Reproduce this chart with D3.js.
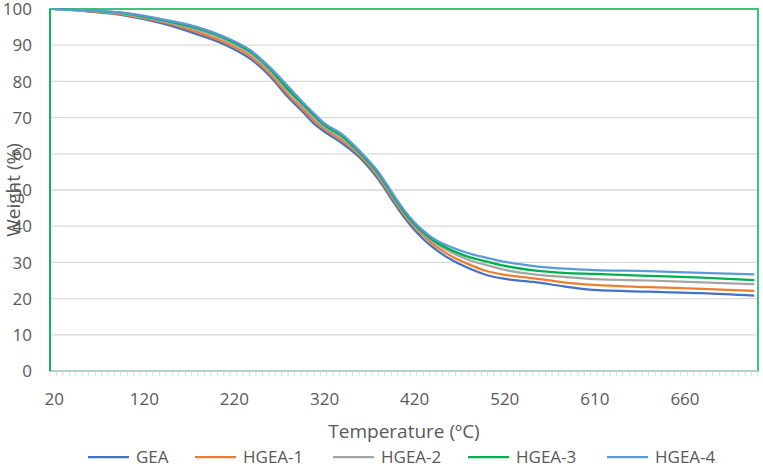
<!DOCTYPE html>
<html>
<head>
<meta charset="utf-8">
<script src="https://cdn.jsdelivr.net/npm/d3@7"></script>
<style>
  html, body { margin: 0; padding: 0; background: #fff; }
  svg { display: block; }
  text { font-family: "Open Sans", "Liberation Sans", sans-serif; fill: #595959; }
</style>
</head>
<body>
<svg id="chart" width="763" height="467"></svg>
<script>
// ---- data ----
const temps = [20, 60, 100, 140, 180, 210, 240, 260, 280, 300, 310, 320, 340, 360, 380, 400, 410, 420, 430, 440, 460, 480, 500, 520, 550, 580, 610, 640, 670, 699];
const GEA    = [100, 99.3, 98.2, 96.1, 93.0, 90.2, 86.0, 81.6, 75.8, 70.8, 68.2, 66.3, 63.0, 59.0, 53.2, 45.8, 42.3, 39.2, 36.6, 34.4, 31.0, 28.5, 26.6, 25.5, 24.6, 23.4, 22.4, 21.9, 21.5, 20.8];
const HGEA_1 = [100, 99.4, 98.4, 96.5, 93.6, 90.8, 86.7, 82.2, 76.5, 71.6, 69.0, 67.0, 63.7, 59.6, 53.9, 46.5, 43.0, 40.0, 37.5, 35.3, 32.0, 29.6, 27.7, 26.6, 25.6, 24.5, 23.8, 23.2, 22.7, 22.1];
const HGEA_2 = [100, 99.5, 98.6, 96.7, 94.2, 91.5, 87.5, 83.0, 77.4, 72.4, 69.8, 67.6, 64.4, 60.0, 54.4, 47.0, 43.5, 40.5, 38.0, 36.0, 33.0, 30.8, 29.3, 28.0, 26.7, 26.0, 25.4, 25.0, 24.5, 24.0];
const HGEA_3 = [100, 99.6, 98.8, 97.0, 94.7, 92.0, 88.0, 83.6, 78.0, 73.0, 70.5, 68.1, 65.0, 60.3, 54.8, 47.3, 43.8, 40.8, 38.4, 36.4, 33.6, 31.6, 30.3, 29.1, 27.8, 27.1, 26.8, 26.3, 25.8, 25.1];
const HGEA_4 = [100, 99.6, 98.9, 97.2, 95.0, 92.3, 88.4, 84.0, 78.8, 73.5, 71.0, 68.6, 65.5, 60.8, 55.3, 47.8, 44.3, 41.3, 38.9, 36.9, 34.4, 32.6, 31.3, 30.2, 29.0, 28.3, 27.9, 27.6, 27.1, 26.7];
const seriesNames = ["GEA", "HGEA-1", "HGEA-2", "HGEA-3", "HGEA-4"];
const seriesValues = [GEA, HGEA_1, HGEA_2, HGEA_3, HGEA_4];
const seriesColors = ["#4472C4", "#ED7D31", "#A5A5A5", "#00B050", "#5B9BD5"];
const xTickLabels = [20, 120, 220, 320, 420, 520, 610, 660];
const categoriesPerLabel = 14;
const categoryCount = 110;
const yTicks = [0, 10, 20, 30, 40, 50, 60, 70, 80, 90, 100];

// ---- layout ----
const svg = d3.select("#chart");
const L = 50, R = 758, T = 9, B = 371;

// temperature -> category index (category axis with uneven temperature steps)
const tempToIndex = d3.scaleLinear()
  .domain(xTickLabels)
  .range(xTickLabels.map((d, i) => i * categoriesPerLabel));
const indexToPx = d3.scaleLinear().domain([-0.5, categoryCount - 0.5]).range([L, R]);
const x = t => indexToPx(tempToIndex(t));
const y = d3.scaleLinear().domain([0, 100]).range([B, T]);

// gridlines
svg.append("g").selectAll("line").data(yTicks.filter(d => d > 0 && d < 100)).join("line")
  .attr("x1", L).attr("x2", R).attr("y1", d => y(d)).attr("y2", d => y(d))
  .attr("stroke", "#D9D9D9").attr("stroke-width", 1.3);

// plot border (green)
svg.append("rect").attr("x", L).attr("y", T).attr("width", R - L).attr("height", B - T)
  .attr("fill", "none").attr("stroke", "#00B050").attr("stroke-width", 1.5);

// x axis line + minor category ticks
svg.append("line").attr("x1", L).attr("x2", R).attr("y1", B).attr("y2", B)
  .attr("stroke", "#D9D9D9").attr("stroke-width", 1.3);
svg.append("g").selectAll("line").data(d3.range(0, categoryCount + 1)).join("line")
  .attr("x1", i => indexToPx(i - 0.5)).attr("x2", i => indexToPx(i - 0.5))
  .attr("y1", B).attr("y2", B + 5)
  .attr("stroke", "#D9D9D9").attr("stroke-width", 1);
svg.append("line").attr("x1", L).attr("x2", L).attr("y1", T).attr("y2", B)
  .attr("stroke", "#00B050").attr("stroke-width", 1.5);

// y tick labels
svg.append("g").selectAll("text").data(yTicks).join("text")
  .attr("x", 32).attr("y", d => y(d)).attr("dy", "0.36em")
  .attr("text-anchor", "end").style("font-size", "17px").text(d => d);

// x tick labels
svg.append("g").selectAll("text").data(xTickLabels).join("text")
  .attr("x", d => x(d) + 1).attr("y", 405)
  .attr("text-anchor", "middle").style("font-size", "17px").text(d => d);

// axis titles
svg.append("text").attr("x", 404).attr("y", 438).attr("text-anchor", "middle")
  .style("font-size", "19px").text("Temperature (ºC)");
svg.append("text").attr("transform", "translate(20,190) rotate(-90)")
  .attr("text-anchor", "middle").style("font-size", "19px").text("Weight (%)");

// lines
const line = d3.line().x(d => x(d[0])).y(d => y(d[1])).curve(d3.curveMonotoneX);
svg.append("g").selectAll("path").data(seriesValues).join("path")
  .attr("d", vals => line(temps.map((t, i) => [t, vals[i]])))
  .attr("fill", "none")
  .attr("stroke", (d, i) => seriesColors[i])
  .attr("stroke-width", 2.25)
  .attr("stroke-linejoin", "round");

// legend
const legendX = [88, 195, 333, 468, 607];
const lg = svg.append("g").selectAll("g").data(seriesNames).join("g")
  .attr("transform", (d, i) => `translate(${legendX[i]},457)`);
lg.append("line").attr("x1", 0).attr("x2", 41).attr("y1", 0).attr("y2", 0)
  .attr("stroke", (d, i) => seriesColors[i]).attr("stroke-width", 2.25);
lg.append("text").attr("x", 48).attr("y", 0).attr("dy", "0.36em")
  .style("font-size", "17px").text(d => d);
</script>
</body>
</html>
